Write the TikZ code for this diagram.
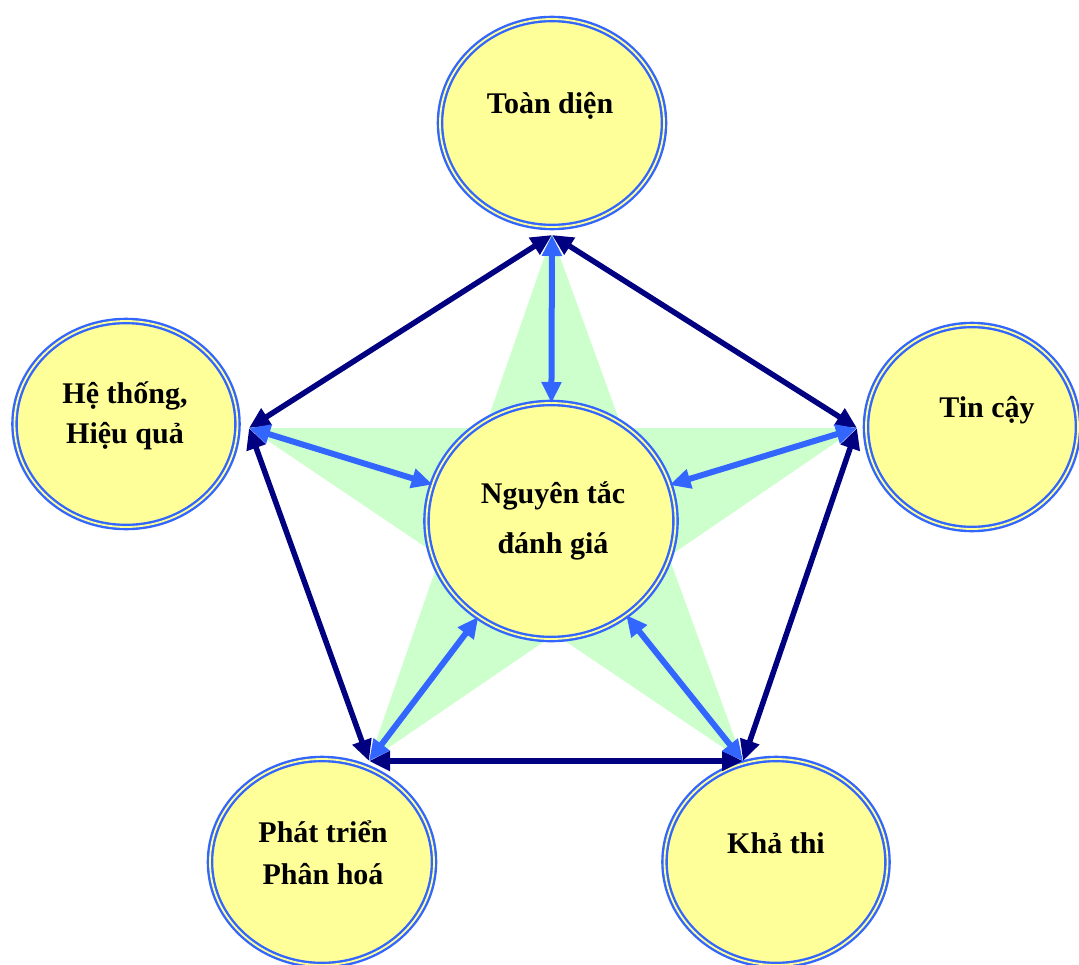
\documentclass[tikz,border=0pt]{standalone}
\usepackage{fontspec}
\setmainfont{Liberation Serif}
\usetikzlibrary{arrows.meta,shapes.geometric}
\definecolor{fillY}{HTML}{FFFF99}
\definecolor{ringB}{HTML}{3366FF}
\definecolor{navyC}{HTML}{000080}
\definecolor{starG}{HTML}{CCFFCC}
\begin{document}
\begin{tikzpicture}[x=1pt,y=-1pt,
  bubble/.style={ellipse, draw=ringB, line width=2.4pt, double=fillY, double distance=1.8pt, fill=fillY, inner sep=0pt, outer sep=0pt},
  lbl/.style={font=\fontsize{30}{40}\selectfont\bfseries, align=center, anchor=base, inner sep=0pt},
  edgeN/.style={draw=navyC, line width=5.5pt, {Triangle[length=21pt,width=19pt]}-{Triangle[length=21pt,width=19pt]}},
  spoke/.style={draw=ringB, line width=6pt, {Triangle[length=21pt,width=19pt]}-{Triangle[length=21pt,width=19pt]}}]
\useasboundingbox (0,0) rectangle (1079,964);
% star points
\coordinate (pT) at (552,235);
\coordinate (pL) at (249,428);
\coordinate (pR) at (857,428);
\coordinate (pBL) at (369,761);
\coordinate (pBR) at (743,761);
% green star
\fill[starG] (pT) -- (pBL) -- (pR) -- (pL) -- (pBR) -- cycle;
% bubbles
\node[bubble, minimum width=224pt, minimum height=208pt] (T) at (552,123) {};
\node[bubble, minimum width=223pt, minimum height=206pt] (L) at (126,424) {};
\node[bubble, minimum width=212pt, minimum height=204pt] (R) at (972,427) {};
\node[bubble, minimum width=224pt, minimum height=206pt] (BL) at (322,862) {};
\node[bubble, minimum width=223pt, minimum height=206pt] (BR) at (776,862) {};
\node[bubble, minimum width=249pt, minimum height=236pt] (C) at (551,521) {};
% labels (base anchor = baseline of last line)
\node[lbl] (tT) at (550,113) {Toàn diện};
\node[lbl] (tL) at (125,443) {Hệ thống,\\Hiệu quả};
\node[lbl] (tR) at (987,417) {Tin cậy};
\node[lbl, font=\fontsize{30}{50}\selectfont\bfseries] (tC) at (553,553) {Nguyên tắc\\đánh giá};
\node[lbl, font=\fontsize{30}{42}\selectfont\bfseries] (tBL) at (323,884) {Phát triển\\Phân hoá};
\node[lbl] (tBR) at (776,853) {Khả thi};
% pentagon edges
\draw[edgeN] (pT) -- (pL);
\draw[edgeN] (pT) -- (pR);
\draw[edgeN] (pL) -- (pBL);
\draw[edgeN] (pR) -- (pBR);
\draw[edgeN] (pBL) -- (pBR);
% spokes
\draw[spoke] (pT) -- (C);
\draw[spoke] (pL) -- (C);
\draw[spoke] (pR) -- (C);
\draw[spoke] (pBL) -- (C);
\draw[spoke] (pBR) -- (C);
\end{tikzpicture}
\end{document}
